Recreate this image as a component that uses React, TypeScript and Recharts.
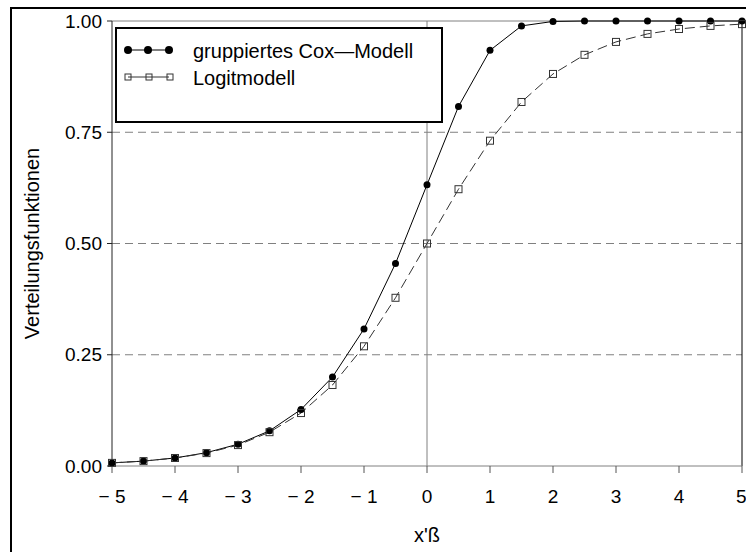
import React from 'react';
import { LineChart, Line, XAxis, YAxis, ReferenceLine, Legend } from 'recharts';

const xValues = [-5, -4.5, -4, -3.5, -3, -2.5, -2, -1.5, -1, -0.5, 0, 0.5, 1, 1.5, 2, 2.5, 3, 3.5, 4, 4.5, 5];
const coxValues = [0.007, 0.011, 0.018, 0.03, 0.049, 0.079, 0.127, 0.2, 0.308, 0.455, 0.632, 0.808, 0.934, 0.989, 0.999, 1, 1, 1, 1, 1, 1];
const logitValues = [0.007, 0.011, 0.018, 0.029, 0.047, 0.076, 0.119, 0.182, 0.269, 0.378, 0.5, 0.622, 0.731, 0.818, 0.881, 0.924, 0.953, 0.971, 0.982, 0.989, 0.993];
const xTicks = [-5, -4, -3, -2, -1, 0, 1, 2, 3, 4, 5];
const yTicks = [0, 0.25, 0.5, 0.75, 1];
const seriesNames = ['gruppiertes Cox\u2014Modell', 'Logitmodell'];

const data = xValues.map((x, i) => ({ x, cox: coxValues[i], logit: logitValues[i] }));

const font = '"Liberation Sans", Arial, sans-serif';

const SquareDot = (props: any) => {
  const { cx, cy, index } = props;
  if (cx == null || cy == null) return null;
  return <rect key={`sq-${index}`} x={cx - 3.5} y={cy - 3.5} width={7} height={7} fill="none" stroke="#333" strokeWidth={1} />;
};

const renderLegend = () => (
  <svg width={328} height={96} style={{ display: 'block' }}>
    <rect x={1} y={1} width={326} height={94} fill="#fff" stroke="#000" strokeWidth={2} />
    <line x1={13} y1={23} x2={54} y2={23} stroke="#000" strokeWidth={1} />
    {[13, 33, 54].map((cx) => <circle key={cx} cx={cx} cy={23} r={4} fill="#000" />)}
    <line x1={13} y1={50} x2={54} y2={50} stroke="#333" strokeWidth={1} />
    {[13, 34, 55].map((cx) => (
      <rect key={cx} x={cx - 3} y={47} width={6} height={6} fill="none" stroke="#333" strokeWidth={1} />
    ))}
    <text x={78} y={31} fontFamily={font} fontSize={20} fill="#000">{seriesNames[0]}</text>
    <text x={78} y={58} fontFamily={font} fontSize={20} fill="#000">{seriesNames[1]}</text>
  </svg>
);

const formatX = (v: number) => (v < 0 ? `\u2212\u00A0${Math.abs(v)}` : `${v}`);

export default function App() {
  return (
    <div style={{ position: 'absolute', left: 0, top: 0, width: 746, height: 552, overflow: 'hidden', background: '#fff' }}>
      <div style={{ position: 'absolute', left: 10, top: 7, width: 800, height: 600, borderLeft: '2px solid #000', borderTop: '2px solid #000' }} />
      <LineChart width={746} height={552} data={data} margin={{ top: 21, right: 4, left: 0, bottom: 0 }}>
        <XAxis
          dataKey="x"
          type="number"
          domain={[-5, 5]}
          ticks={xTicks}
          tickFormatter={formatX}
          height={86}
          stroke="#808080"
          tickSize={7}
          tickMargin={17}
          tick={{ fill: '#000', fontSize: 19, fontFamily: font }}
          tickLine={{ stroke: '#555' }}
          label={{ value: "x'ß", position: 'insideBottom', offset: 10, fill: '#000', fontSize: 20, fontFamily: font }}
        />
        <YAxis
          type="number"
          domain={[0, 1]}
          ticks={yTicks}
          width={112}
          stroke="#222"
          tickSize={5}
          tickMargin={5}
          tickFormatter={(v: number) => v.toFixed(2)}
          tick={{ fill: '#000', fontSize: 19, fontFamily: font }}
          label={{ value: 'Verteilungsfunktionen', angle: -90, position: 'insideLeft', offset: 32, fill: '#000', fontSize: 20, fontFamily: font, style: { textAnchor: 'middle' } }}
        />
        {[0.25, 0.5, 0.75].map((y) => (
          <ReferenceLine key={y} y={y} stroke="#808080" strokeDasharray="8 5" strokeWidth={1} />
        ))}
        <ReferenceLine y={1} stroke="#808080" strokeWidth={1} />
        <ReferenceLine x={0} stroke="#808080" strokeWidth={1} />
        <ReferenceLine x={5} stroke="#000" strokeWidth={1} />
        <Line
          type="linear"
          dataKey="cox"
          name={seriesNames[0]}
          stroke="#000"
          strokeWidth={1}
          dot={{ r: 3.5, fill: '#000', stroke: '#000', strokeWidth: 0 }}
          isAnimationActive={false}
        />
        <Line
          type="linear"
          dataKey="logit"
          name={seriesNames[1]}
          stroke="#333"
          strokeWidth={1}
          strokeDasharray="10 5"
          dot={SquareDot}
          isAnimationActive={false}
        />
        <Legend
          layout="horizontal"
          verticalAlign="middle"
          align="center"
          content={renderLegend}
          wrapperStyle={{ left: 115, top: 27, width: 328, height: 96 }}
        />
      </LineChart>
    </div>
  );
}
